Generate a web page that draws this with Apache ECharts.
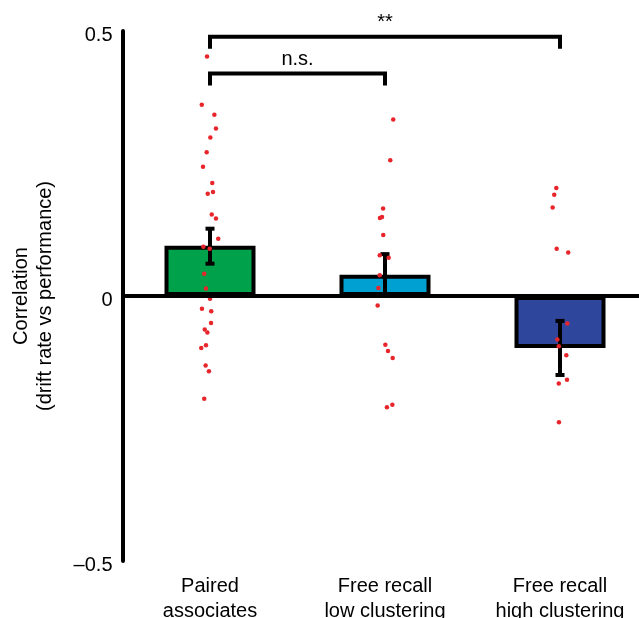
<!DOCTYPE html>
<html>
<head>
<meta charset="utf-8">
<script src="https://cdn.jsdelivr.net/npm/echarts@6/dist/echarts.min.js"></script>
<style>
  html, body { margin: 0; padding: 0; background: #fff; }
  #main { width: 639px; height: 618px; }
</style>
</head>
<body>
<div id="main"></div>
<script>
// categories and bar values
var categories = ['Paired\nassociates', 'Free recall\nlow clustering', 'Free recall\nhigh clustering'];
var meanValues = [0.095, 0.040, -0.098];
var errLow = [0.061, 0.001, -0.149];
var errHigh = [0.127, 0.079, -0.047];
var barColors = ['#00a14b', '#00a0d2', '#2e479c'];

// individual subjects (value + horizontal jitter in category units)
var pairedDots = [0.452, 0.361, 0.342, 0.316, 0.299, 0.271, 0.244, 0.213, 0.196, 0.193, 0.154, 0.146, 0.108, 0.093,
  0.089, 0.042, 0.014, -0.005, -0.024, -0.029, -0.051, -0.063, -0.069, -0.093, -0.098, -0.131, -0.142, -0.194];
var pairedJitter = [-0.017, -0.047, 0.025, 0.034, 0.002, -0.019, -0.040, 0.013, 0.017, -0.013, 0.010, 0.034, 0.047, -0.038,
  -0.002, -0.033, -0.023, 0, -0.046, 0.007, 0.006, -0.030, -0.015, -0.023, -0.050, -0.025, -0.006, -0.033];
var lowDots = [0.333, 0.256, 0.165, 0.149, 0.147, 0.115, 0.077, 0.072, 0.039, 0.015, -0.018, -0.092, -0.104, -0.117, -0.205, -0.210];
var lowJitter = [0.047, 0.030, -0.011, -0.017, -0.029, -0.010, -0.030, 0.021, -0.030, -0.038, -0.042, 0.002, 0.017, 0.044, 0.042, 0.011];
var highDots = [0.204, 0.191, 0.167, 0.089, 0.082, -0.052, -0.082, -0.095, -0.112, -0.158, -0.165, -0.238];
var highJitter = [-0.021, -0.033, -0.042, -0.019, 0.047, 0.042, -0.015, -0.007, 0.036, 0.040, -0.007, -0.006];

// y axis ticks
var yMin = -0.5, yMax = 0.5, yStep = 0.5;

// significance brackets
var bracketFrom = [0, 0];
var bracketTo = [2, 1];
var bracketLevel = [0.489, 0.42];
var bracketText = ['**', 'n.s.'];

var FONT = "'Liberation Sans', Arial, sans-serif";

var dotData = [];
[pairedDots, lowDots, highDots].forEach(function (vals, g) {
  var jit = [pairedJitter, lowJitter, highJitter][g];
  vals.forEach(function (v, i) {
    dotData.push([g + jit[i], v]);
  });
});

var errData = meanValues.map(function (m, i) {
  return [i, errLow[i], errHigh[i]];
});

var bracketData = bracketFrom.map(function (f, i) {
  return [f, bracketTo[i], bracketLevel[i], bracketText[i]];
});

var chart = echarts.init(document.getElementById('main'));

var option = {
  animation: false,
  backgroundColor: '#fff',
  grid: { left: 122.5, top: 31, bottom: 57, width: 525, containLabel: false, outerBoundsMode: 'none' },
  xAxis: [
    {
      type: 'category',
      data: categories,
      axisLine: { show: false },
      axisTick: { show: false },
      axisLabel: {
        margin: 13,
        fontSize: 20,
        lineHeight: 25,
        color: '#000',
        fontFamily: FONT
      }
    },
    {
      type: 'value',
      min: -0.5,
      max: 2.5,
      show: false
    }
  ],
  yAxis: {
    type: 'value',
    min: yMin,
    max: yMax,
    interval: yStep,
    splitLine: { show: false },
    axisTick: { show: false },
    axisLine: { show: true, onZero: false, lineStyle: { color: '#000', width: 4 } },
    axisLabel: {
      margin: 10,
      fontSize: 20,
      color: '#000',
      fontFamily: FONT,
      verticalAlign: 'top',
      lineHeight: 8,
      formatter: function (v) {
        if (v === 0) return '0';
        return (v < 0 ? '\u2013' : '') + Math.abs(v);
      }
    },
    name: 'Correlation\n(drift rate vs performance)',
    nameLocation: 'middle',
    nameRotate: 90,
    nameGap: 65,
    nameTextStyle: { fontSize: 20, lineHeight: 24, color: '#000', fontFamily: FONT }
  },
  series: [
    {
      type: 'bar',
      xAxisIndex: 0,
      data: meanValues,
      barWidth: 91,
      z: 2,
      itemStyle: {
        color: function (p) { return barColors[p.dataIndex]; },
        borderColor: '#000',
        borderWidth: 4
      },
      markLine: {
        silent: true,
        symbol: 'none',
        label: { show: false },
        lineStyle: { color: '#000', width: 4, type: 'solid' },
        data: [{ yAxis: 0 }]
      }
    },
    {
      type: 'custom',
      xAxisIndex: 0,
      z: 3,
      data: errData,
      renderItem: function (params, api) {
        var x = api.value(0);
        var lo = api.coord([x, api.value(1)]);
        var hi = api.coord([x, api.value(2)]);
        var cap = 4.5;
        var st = { stroke: '#000', lineWidth: 4 };
        return {
          type: 'group',
          children: [
            { type: 'line', shape: { x1: lo[0], y1: lo[1], x2: hi[0], y2: hi[1] }, style: st },
            { type: 'line', shape: { x1: lo[0] - cap, y1: lo[1], x2: lo[0] + cap, y2: lo[1] }, style: st },
            { type: 'line', shape: { x1: hi[0] - cap, y1: hi[1], x2: hi[0] + cap, y2: hi[1] }, style: st }
          ]
        };
      }
    },
    {
      type: 'scatter',
      xAxisIndex: 1,
      z: 4,
      data: dotData,
      symbolSize: 4.5,
      itemStyle: { color: '#e8252b', opacity: 1 }
    },
    {
      type: 'custom',
      xAxisIndex: 0,
      z: 5,
      clip: false,
      data: bracketData,
      renderItem: function (params, api) {
        var a = api.coord([api.value(0), api.value(2)]);
        var b = api.coord([api.value(1), api.value(2)]);
        var drop = 12;
        return {
          type: 'group',
          children: [
            {
              type: 'polyline',
              shape: { points: [[a[0], a[1] + drop], [a[0], a[1]], [b[0], b[1]], [b[0], b[1] + drop]] },
              style: { stroke: '#000', lineWidth: 4, fill: null }
            },
            {
              type: 'text',
              style: {
                x: (a[0] + b[0]) / 2,
                y: a[1] - 4,
                text: bracketText[params.dataIndex],
                fill: '#000',
                fontSize: 20,
                fontFamily: FONT,
                align: 'center',
                verticalAlign: 'bottom'
              }
            }
          ]
        };
      }
    }
  ]
};

chart.setOption(option);
</script>
</body>
</html>
